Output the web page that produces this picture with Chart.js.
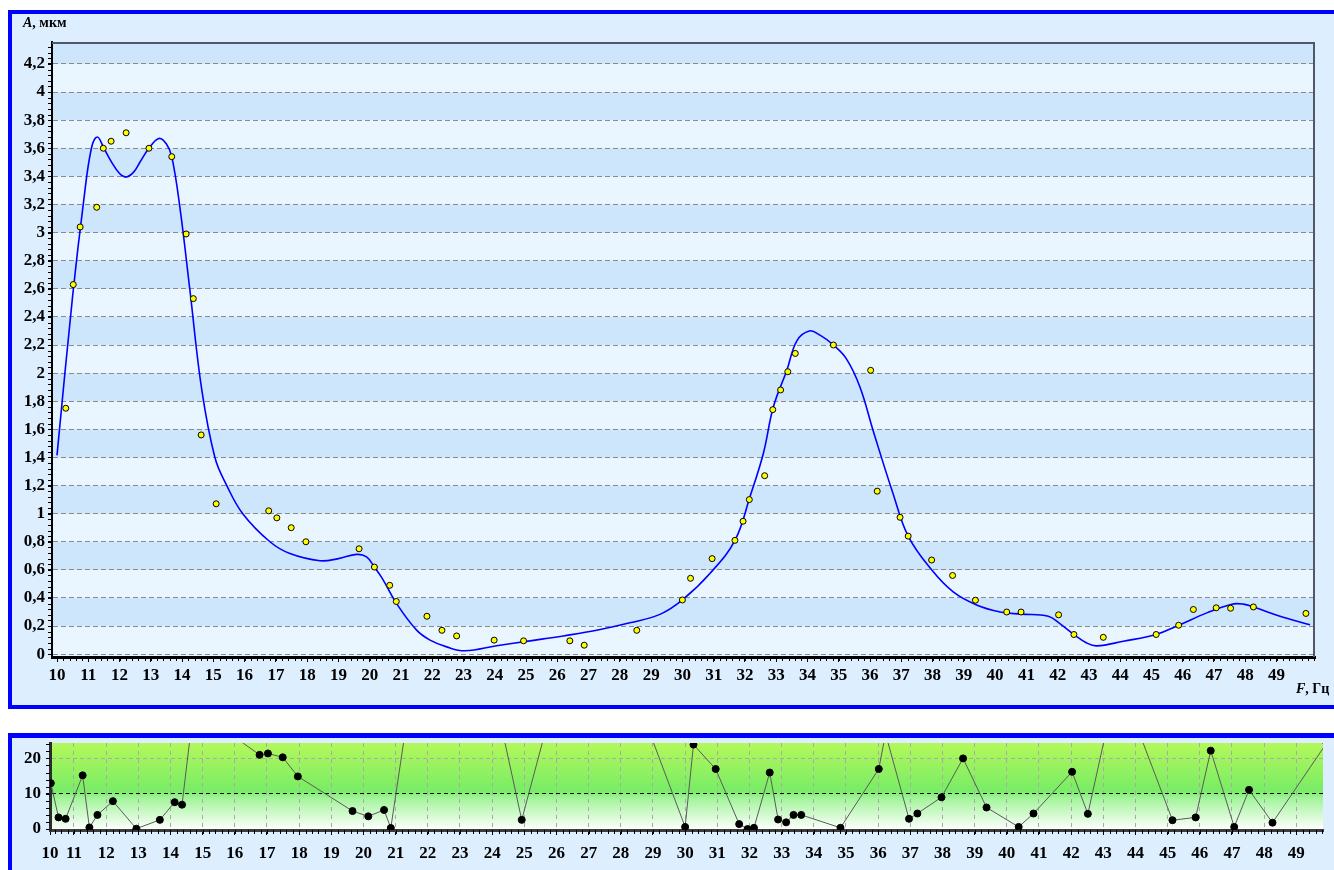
<!DOCTYPE html>
<html>
<head>
<meta charset="utf-8">
<script src="https://cdn.jsdelivr.net/npm/chart.js"></script>
<style>
  body { margin: 0; background: #fff; overflow: hidden; width: 1334px; height: 870px; }
  .panel { position: absolute; left: 8px; width: 1340px; background: #ddeeff; border-left: 4px solid #0000ff; border-top: 4px solid #0000ff; }
  .panel canvas { position: absolute; left: 0; top: 0; }
  .lbl { position: absolute; font: bold 14px "Liberation Serif", "Times New Roman", serif; line-height: 14px; color: #000; white-space: nowrap; }
</style>
</head>
<body>
<div class="panel" id="topPanel" style="top:10px;height:691px;border-bottom:4px solid #0000ff;">
  <canvas id="amp" width="1322" height="691"></canvas>
  <div class="lbl" style="left:11px;top:2px;"><i>A</i>, мкм</div>
  <div class="lbl" style="left:1284px;top:668px;"><i>F</i>, Гц</div>
</div>
<div class="panel" id="botPanel" style="top:733px;height:200px;border-top-width:5px;">
  <canvas id="dev" width="1322" height="132"></canvas>
</div>
<script>
// measured points: frequency, Hz / amplitude, um
var FREQ = [10.28, 10.52, 10.74, 11.27, 11.48, 11.73, 12.21, 12.94, 13.67, 14.13,
            14.36, 14.61, 15.09, 16.77, 17.03, 17.49, 17.96, 19.66, 20.15, 20.64,
            20.85, 21.83, 22.31, 22.78, 23.98, 24.92, 26.40, 26.86, 28.54, 30.00,
            30.26, 30.95, 31.68, 31.94, 32.14, 32.63, 32.89, 33.14, 33.37, 33.61,
            34.83, 36.02, 36.23, 36.96, 37.22, 37.97, 38.64, 39.37, 40.37, 40.83,
            42.03, 42.52, 43.46, 45.15, 45.87, 46.34, 47.07, 47.53, 48.26, 49.94];
var AMP = [1.75, 2.63, 3.04, 3.18, 3.60, 3.65, 3.71, 3.60, 3.54, 2.99,
           2.53, 1.56, 1.07, 1.02, 0.97, 0.90, 0.80, 0.75, 0.62, 0.49,
           0.375, 0.27, 0.17, 0.13, 0.10, 0.095, 0.095, 0.064, 0.17, 0.386,
           0.54, 0.68, 0.81, 0.946, 1.10, 1.27, 1.74, 1.88, 2.01, 2.14,
           2.20, 2.02, 1.16, 0.974, 0.84, 0.67, 0.56, 0.384, 0.30, 0.30,
           0.28, 0.14, 0.12, 0.14, 0.206, 0.318, 0.33, 0.327, 0.336, 0.29];
// deviation of each point from the fitted curve, %
var DEV = [13.0, 3.3, 2.9, 15.2, 0.45, 4.0, 7.9, 0.1, 2.6, 7.6,
           6.9, 26, 32, 21.0, 21.4, 20.3, 14.9, 5.1, 3.6, 5.4,
           0.3, 60, 65, 70, 42, 2.6, 53, 58, 36, 0.6,
           23.9, 17.0, 1.4, 0.0, 0.35, 16.0, 2.7, 1.9, 4.0, 4.0,
           0.35, 17.0, 27, 2.9, 4.4, 9.0, 20.0, 6.1, 0.6, 4.4,
           16.2, 4.3, 43, 2.5, 3.3, 22.2, 0.6, 11.1, 1.8, 24.3];
// fitted curve
var CURVE_F = [10.0, 10.5, 10.85, 11.1, 11.29, 11.5, 11.75, 12.0, 12.21,
               12.45, 12.65, 12.94, 13.26, 13.5, 13.67, 13.93, 14.25, 14.63, 15.05,
               15.43, 15.94, 16.81, 17.45, 18.41, 19.0, 19.58, 19.9, 20.15, 20.4,
               20.86, 21.5, 21.93, 22.46, 23.05, 24.06, 25.13, 26.19, 27.26, 28.32,
               29.3, 30.0, 30.88, 31.68, 32.16, 32.59, 32.91, 33.34, 33.66, 34.06,
               34.4, 34.83, 35.25, 35.68, 36.1, 36.74, 37.22, 37.97, 38.66, 39.41,
               40.16, 40.83, 41.7, 42.07, 42.52, 42.93, 43.25, 44.1, 45.15, 45.87,
               46.77, 47.57, 47.94, 48.26, 49.11, 50.07];
var CURVE_A = [1.415, 2.55, 3.22, 3.60, 3.68, 3.60, 3.50, 3.42, 3.395,
               3.43, 3.50, 3.60, 3.67, 3.63, 3.54, 3.18, 2.59, 1.88, 1.40,
               1.20, 1.0, 0.80, 0.716, 0.665, 0.68, 0.71, 0.692, 0.62, 0.54,
               0.36, 0.171, 0.10, 0.052, 0.024, 0.06, 0.095, 0.13, 0.17, 0.223,
               0.285, 0.386, 0.574, 0.81, 1.12, 1.43, 1.76, 2.02, 2.23, 2.30,
               2.27, 2.20, 2.10, 1.90, 1.59, 1.14, 0.84, 0.60, 0.443, 0.35,
               0.30, 0.285, 0.27, 0.218, 0.14, 0.08, 0.059, 0.092, 0.14, 0.206,
               0.294, 0.356, 0.356, 0.336, 0.27, 0.21];

var X_TICKS = [10, 11, 12, 13, 14, 15, 16, 17, 18, 19, 20, 21, 22, 23, 24, 25, 26, 27, 28, 29,
               30, 31, 32, 33, 34, 35, 36, 37, 38, 39, 40, 41, 42, 43, 44, 45, 46, 47, 48, 49];
var Y_TICKS = [0, 0.2, 0.4, 0.6, 0.8, 1, 1.2, 1.4, 1.6, 1.8, 2, 2.2, 2.4, 2.6, 2.8, 3, 3.2, 3.4, 3.6, 3.8, 4, 4.2];
var DEV_TICKS = [0, 10, 20];

var FONT = { family: '"Liberation Serif", "Times New Roman", serif', size: 17, weight: 'bold' };

// alternating horizontal bands behind the amplitude plot
var bands = {
  id: 'bands',
  beforeDraw: function(chart) {
    var a = chart.chartArea, y = chart.scales.y, ctx = chart.ctx;
    var step = 0.2;
    ctx.save();
    ctx.fillStyle = '#eaf6ff';
    ctx.fillRect(a.left, a.top, a.right - a.left, a.bottom - a.top);
    ctx.beginPath();
    ctx.rect(a.left, a.top, a.right - a.left, a.bottom - a.top);
    ctx.clip();
    ctx.fillStyle = '#cde6fc';
    for (var k = 1; k * step < y.max; k += 2) {
      var p1 = y.getPixelForValue(k * step), p2 = y.getPixelForValue((k + 1) * step);
      ctx.fillRect(a.left, p2, a.right - a.left, p1 - p2);
    }
    ctx.restore();
  }
};

var gradientBg = {
  id: 'gradientBg',
  beforeDraw: function(chart) {
    var a = chart.chartArea, ctx = chart.ctx;
    var g = ctx.createLinearGradient(0, a.top, 0, a.bottom);
    g.addColorStop(0, '#b4f85a');
    g.addColorStop(0.55, '#78ec66');
    g.addColorStop(0.64, '#a4f49c');
    g.addColorStop(1, '#ffffff');
    ctx.save();
    ctx.fillStyle = g;
    ctx.fillRect(a.left, a.top, a.right - a.left, a.bottom - a.top);
    ctx.restore();
  }
};

// thin frame on top/right, minor ticks on both axes
var frame = {
  id: 'frame',
  afterDraw: function(chart, args, o) {
    var a = chart.chartArea, ctx = chart.ctx, x = chart.scales.x, y = chart.scales.y;
    ctx.save();
    if (o.top) {
      ctx.strokeStyle = '#505868';
      ctx.lineWidth = 2;
      ctx.beginPath();
      ctx.moveTo(a.left, a.top + 1);
      ctx.lineTo(a.right - 1, a.top + 1);
      ctx.lineTo(a.right - 1, a.bottom);
      ctx.stroke();
    }
    ctx.strokeStyle = '#000';
    ctx.lineWidth = 1;
    ctx.beginPath();
    var i, v, p;
    for (i = 1; (v = o.xFrom + i * o.xStep) < x.max; i++) {
      p = Math.round(x.getPixelForValue(v)) + 0.5;
      ctx.moveTo(p, a.bottom);
      ctx.lineTo(p, a.bottom + o.len + 1);
    }
    for (i = 1; (v = i * o.yStep) < y.max; i++) {
      p = Math.round(y.getPixelForValue(v)) + 0.5;
      ctx.moveTo(a.left - o.len - 1, p);
      ctx.lineTo(a.left, p);
    }
    ctx.stroke();
    ctx.restore();
  }
};

var ampPoints = FREQ.map(function(f, i) { return { x: f, y: AMP[i] }; });
var curvePoints = CURVE_F.map(function(f, i) { return { x: f, y: CURVE_A[i] }; });
var devPoints = FREQ.map(function(f, i) { return { x: f, y: DEV[i] }; });

new Chart(document.getElementById('amp').getContext('2d'), {
  type: 'scatter',
  plugins: [bands, frame],
  data: {
    datasets: [{
      label: 'A',
      data: ampPoints,
      showLine: false,
      pointRadius: 3,
      pointBackgroundColor: '#ffff00',
      pointBorderColor: '#000',
      pointBorderWidth: 1
    }, {
      label: 'fit',
      data: curvePoints,
      showLine: true,
      borderColor: '#0000ff',
      borderWidth: 1.6,
      pointRadius: 0,
      tension: 0.4
    }]
  },
  options: {
    responsive: false,
    animation: false,
    events: [],
    layout: { padding: { top: 28, right: 19, left: 0, bottom: 0 } },
    plugins: {
      legend: { display: false },
      tooltip: { enabled: false },
      frame: { top: true, xFrom: 9.8, xStep: 0.2, yStep: 0.04, len: 3 }
    },
    scales: {
      x: {
        type: 'linear',
        min: 9.84,
        max: 50.23,
        afterBuildTicks: function(s) { s.ticks = X_TICKS.map(function(v) { return { value: v }; }); },
        afterFit: function(s) { s.height = 48; s.paddingLeft = 0; s.paddingRight = 0; },
        ticks: { font: FONT, color: '#000', padding: 3, maxRotation: 0, autoSkip: false },
        grid: { drawOnChartArea: false, tickColor: '#000', tickLength: 5 },
        border: { color: '#000', width: 3 }
      },
      y: {
        min: -0.02,
        max: 4.356,
        afterBuildTicks: function(s) { s.ticks = Y_TICKS.map(function(v) { return { value: v }; }); },
        afterFit: function(s) { s.width = 40; s.paddingTop = 0; s.paddingBottom = 0; },
        ticks: {
          font: FONT, color: '#000', padding: 3,
          callback: function(v) { return String(v).replace('.', ','); }
        },
        grid: { color: '#8a8a8a', tickColor: '#000', tickLength: 4 },
        border: { color: '#000', width: 2, dash: [5, 3] }
      }
    }
  }
});

new Chart(document.getElementById('dev').getContext('2d'), {
  type: 'line',
  plugins: [gradientBg, frame],
  data: {
    datasets: [{
      label: 'dev',
      data: devPoints,
      borderColor: '#5a5a5a',
      borderWidth: 1,
      tension: 0,
      pointRadius: 3.5,
      pointBackgroundColor: '#000',
      pointBorderColor: '#000',
      pointBorderWidth: 1
    }]
  },
  options: {
    responsive: false,
    animation: false,
    events: [],
    layout: { padding: { top: 0, right: 11, left: 0, bottom: 0 } },
    plugins: {
      legend: { display: false },
      tooltip: { enabled: false },
      frame: { top: false, xFrom: 10.2, xStep: 0.2, yStep: 2, len: 3 }
    },
    scales: {
      x: {
        type: 'linear',
        min: 10.255,
        max: 49.83,
        afterBuildTicks: function(s) { s.ticks = X_TICKS.map(function(v) { return { value: Math.max(v, s.min) }; }); },
        afterFit: function(s) { s.height = 40; s.paddingLeft = 0; s.paddingRight = 0; },
        ticks: {
          font: FONT, color: '#000', padding: 8, maxRotation: 0, autoSkip: false,
          callback: function(v) { return String(Math.floor(v + 1e-9)); }
        },
        grid: { color: '#a8a8a8', tickColor: '#000', tickLength: 5 },
        border: { color: '#3c3c3c', width: 3, dash: [4, 4] }
      },
      y: {
        min: -0.27,
        max: 24.36,
        afterBuildTicks: function(s) { s.ticks = DEV_TICKS.map(function(v) { return { value: v }; }); },
        afterFit: function(s) { s.width = 38; s.paddingTop = 0; s.paddingBottom = 0; },
        ticks: { font: FONT, color: '#000', padding: 5 },
        grid: {
          color: function(c) { return c.tick && c.tick.value < 15 ? '#000' : '#a8a8a8'; },
          tickColor: '#000',
          tickLength: 4
        },
        border: { color: '#2c2c2c', width: 3, dash: [4, 3] }
      }
    }
  }
});
</script>
</body>
</html>
